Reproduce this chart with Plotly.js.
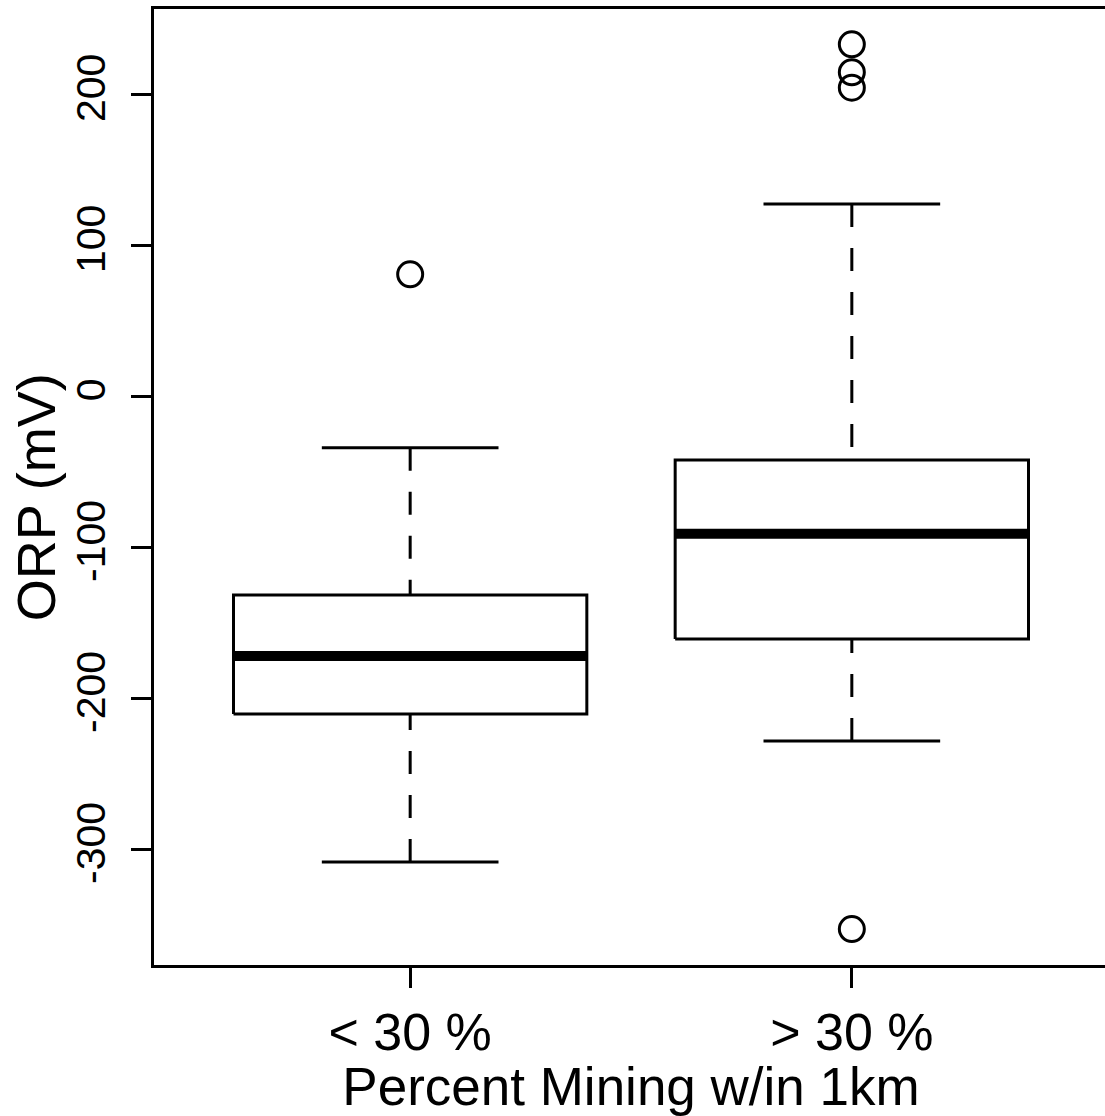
<!DOCTYPE html>
<html>
<head>
<meta charset="utf-8">
<script src="https://cdn.plot.ly/plotly-3.0.1.min.js"></script>
<style>
  html, body { margin: 0; padding: 0; overflow: hidden; background: #fff; }
  #chart { width: 1110px; height: 1116px; }
</style>
</head>
<body>
<div id="chart"></div>
<script>
// ORP by share of mining within 1 km: box-and-whisker summary per group
const categories = ["< 30 %", "> 30 %"];
const lowerWhisker = [-308.6, -228.5];
const q1 = [-210.6, -160.9];
const median = [-172.2, -91.2];
const q3 = [-131.8, -42.4];
const upperWhisker = [-34.2, 127.2];
const outliers = [[80.6], [232.9, 214.4, 204.2, -353.0]];

const yTicks = [-300, -200, -100, 0, 100, 200];

const FONT = "Liberation Sans, Arial, Helvetica, sans-serif";
const BOX_HALF = 0.4;
const CAP_HALF = 0.2;

const traces = [];
categories.forEach((cat, i) => {
  const c = i + 1;
  // dashed whiskers, drawn from the whisker end toward the box
  traces.push({
    type: "scatter", mode: "lines", hoverinfo: "skip", showlegend: false,
    x: [c, c, null, c, c],
    y: [upperWhisker[i], q3[i], null, lowerWhisker[i], q1[i]],
    line: { color: "#000", width: 3, dash: "23px,21px" }
  });
  // whisker caps
  traces.push({
    type: "scatter", mode: "lines", hoverinfo: "skip", showlegend: false,
    x: [c - CAP_HALF, c + CAP_HALF, null, c - CAP_HALF, c + CAP_HALF],
    y: [upperWhisker[i], upperWhisker[i], null, lowerWhisker[i], lowerWhisker[i]],
    line: { color: "#000", width: 3 }
  });
  // box from first to third quartile
  traces.push({
    type: "scatter", mode: "lines", hoverinfo: "skip", showlegend: false,
    x: [c - BOX_HALF, c + BOX_HALF, c + BOX_HALF, c - BOX_HALF, c - BOX_HALF],
    y: [q1[i], q1[i], q3[i], q3[i], q1[i]],
    fill: "toself", fillcolor: "#fff",
    line: { color: "#000", width: 3 }
  });
  // median bar
  traces.push({
    type: "scatter", mode: "lines", hoverinfo: "skip", showlegend: false,
    x: [c - BOX_HALF, c + BOX_HALF],
    y: [median[i], median[i]],
    line: { color: "#000", width: 10 }
  });
  // outlying points
  traces.push({
    type: "scatter", mode: "markers", name: cat, showlegend: false,
    x: outliers[i].map(() => c),
    y: outliers[i],
    marker: { symbol: "circle-open", size: 25, color: "#000", line: { color: "#000", width: 3 } }
  });
});

const layout = {
  width: 1110,
  height: 1116,
  margin: { l: 154, r: 2, t: 9, b: 151 },
  paper_bgcolor: "#fff",
  plot_bgcolor: "#fff",
  font: { family: FONT, color: "#000" },
  showlegend: false,
  xaxis: {
    range: [0.42, 2.58],
    tickmode: "array",
    tickvals: categories.map((_, i) => i + 1),
    ticktext: categories,
    ticks: "outside", ticklen: 20, tickwidth: 3, tickcolor: "#000",
    tickfont: { size: 52, family: FONT, color: "#000" },
    showline: true, linecolor: "#000", linewidth: 3, mirror: true,
    showgrid: false, zeroline: false,
    title: { text: "Percent Mining w/in 1km", font: { size: 53, family: FONT, color: "#000" }, standoff: 2 }
  },
  yaxis: {
    range: [-376.8, 256.3],
    tickmode: "array",
    tickvals: yTicks,
    ticktext: yTicks.map(String),
    tickangle: -90,
    ticklabelstandoff: 10,
    ticks: "outside", ticklen: 20, tickwidth: 3, tickcolor: "#000",
    tickfont: { size: 41, family: FONT, color: "#000" },
    showline: true, linecolor: "#000", linewidth: 3, mirror: true,
    showgrid: false, zeroline: false
  },
  annotations: [{
    text: "ORP (mV)",
    xref: "paper", yref: "paper",
    x: -0.124, y: 0.489,
    xanchor: "center", yanchor: "middle",
    textangle: -90, showarrow: false,
    font: { size: 54, family: FONT, color: "#000" }
  }]
};

Plotly.newPlot("chart", traces, layout, { displayModeBar: false, staticPlot: true });
</script>
</body>
</html>
